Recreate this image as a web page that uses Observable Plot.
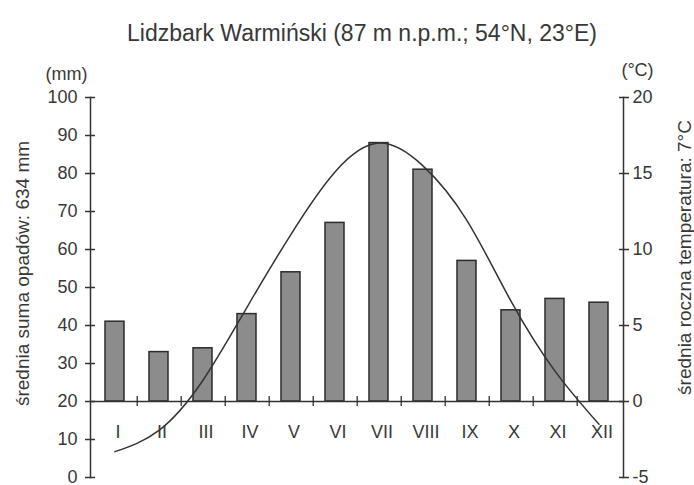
<!DOCTYPE html>
<html><head><meta charset="utf-8">
<script src="https://cdn.jsdelivr.net/npm/d3@7"></script>
<script src="https://cdn.jsdelivr.net/npm/@observablehq/plot@0.6"></script>
<style>
body{margin:0;background:#fff;font-family:"Liberation Sans",Arial,sans-serif;color:#383838}
#title{height:56px;width:694px;position:relative}
#title span{position:absolute;left:362px;top:33px;transform:translate(-50%,-50%);font-size:23px;white-space:nowrap}
#chart svg{display:block}
</style></head><body>
<div id="title"><span>Lidzbark Warmiński (87 m n.p.m.; 54°N, 23°E)</span></div>
<div id="chart"></div>
<script>
const months = ["I","II","III","IV","V","VI","VII","VIII","IX","X","XI","XII"];
const precipitation = [41, 33, 34, 43, 54, 67, 88, 81, 57, 44, 47, 46];
const temperature = [-3.3, -1.9, 1.4, 6.2, 11.0, 15.1, 17.0, 15.5, 11.9, 6.6, 2.0, -1.5];
const precipTicks = [0, 10, 20, 30, 40, 50, 60, 70, 80, 90, 100];
const tempTicks = [-5, 0, 5, 10, 15, 20];
const precipUnit = "(mm)";
const tempUnit = "(°C)";
const precipLabel = "średnia suma opadów: 634 mm";
const tempLabel = "średnia roczna temperatura: 7°C";

// temperature axis maps onto precipitation axis: 0 °C = 20 mm, 20 °C = 100 mm
const toMm = t => (t + 5) * 4;
const toC = mm => mm / 4 - 5;
const data = months.map((m, i) => ({month: m, p: precipitation[i], t: temperature[i]}));
const ink = "#333";

const chart = Plot.plot({
  width: 694, height: 429,
  marginTop: 41, marginBottom: 8, marginLeft: 90, marginRight: 71,
  style: {fontFamily: "'Liberation Sans', Arial, sans-serif", fontSize: "18px", color: "#383838", background: "#fff", overflow: "visible"},
  x: {type: "band", domain: months, paddingInner: 0.57, paddingOuter: 0.285, axis: null},
  y: {domain: [0, 100], axis: null},
  marks: [
    Plot.barY(data, {x: "month", y1: 20, y2: "p", fill: "#8c8c8c", stroke: "#2b2b2b", strokeWidth: 1.5}),
    Plot.ruleY([20], {stroke: ink, strokeWidth: 1.5}),
    Plot.ruleX(months.slice(0, -1), {x: d => d, y1: 18.7, y2: 21.3, dx: 22.2, stroke: ink, strokeWidth: 1.3}),
    Plot.line(data, {x: "month", y: d => toMm(d.t), curve: "natural", stroke: ink, strokeWidth: 1.5}),
    Plot.frame({anchor: "left", stroke: ink, strokeWidth: 1.5}),
    Plot.frame({anchor: "right", stroke: ink, strokeWidth: 1.5}),
    Plot.axisY({anchor: "left", label: null, ticks: precipTicks, tickSize: 10, dx: 5, tickPadding: 8, stroke: ink, strokeWidth: 1.5, fontSize: 18}),
    Plot.axisY({anchor: "right", label: null, ticks: tempTicks.map(toMm), tickSize: 10, dx: -5, tickPadding: 4, tickFormat: d => String(toC(d)), stroke: ink, strokeWidth: 1.5, fontSize: 18}),
    Plot.text(months, {x: d => d, y: 11.8, dx: 3, fontSize: 18}),
    Plot.text([precipLabel], {frameAnchor: "left", textAnchor: "middle", dx: -68, dy: -14, rotate: -90, fontSize: 19}),
    Plot.text([tempLabel], {frameAnchor: "right", textAnchor: "middle", dx: 61, dy: -30, rotate: -90, fontSize: 19}),
    Plot.text([precipUnit], {frameAnchor: "top-left", textAnchor: "middle", dx: -24, dy: -30, fontSize: 18}),
    Plot.text([tempUnit], {frameAnchor: "top-right", textAnchor: "middle", dx: 14, dy: -34, fontSize: 18})
  ]
});
document.getElementById("chart").appendChild(chart);
</script>
</body></html>
